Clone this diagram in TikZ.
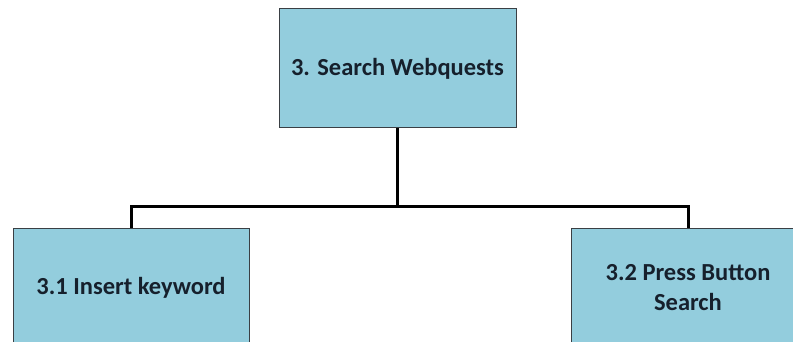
\documentclass[tikz,border=0pt]{standalone}
\usepackage{fontspec}
\setmainfont{Carlito}
\definecolor{boxfill}{HTML}{93CDDD}
\definecolor{boxline}{HTML}{3A3F44}
\definecolor{txt}{HTML}{16202C}
\begin{document}
\begin{tikzpicture}[x=1pt,y=-1pt,
  taskbox/.style={draw=boxline,line width=1pt,fill=boxfill,text=txt,
    font=\fontsize{24.5}{30}\selectfont\bfseries,align=center,inner sep=0pt},
  conn/.style={draw=black,line width=3pt}]
\useasboundingbox (0,0) rectangle (793,342);
\node[taskbox,minimum width=237pt,minimum height=119pt] (top) at (397.5,68.5) {3. Search Webquests};
\node[taskbox,minimum width=236pt,minimum height=120pt] (left) at (131,288) {3.1 Insert keyword};
\node[taskbox,minimum width=234pt,minimum height=120pt] (right) at (688,288) {3.2 Press Button\\Search};
\coordinate (mid) at (397.5,207);
\draw[conn] (top.south) -- (mid);
\draw[conn,line join=miter] (left.north) |- (mid) -| (right.north);
\end{tikzpicture}
\end{document}
